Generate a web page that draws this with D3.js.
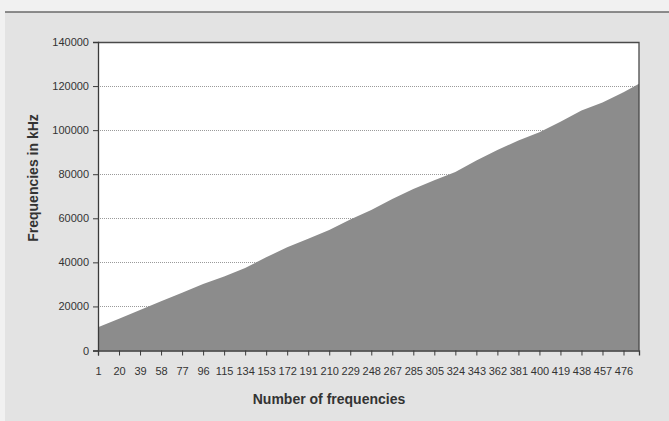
<!DOCTYPE html>
<html>
<head>
<meta charset="utf-8">
<script src="https://cdn.jsdelivr.net/npm/d3@7"></script>
<style>
  html, body { margin: 0; padding: 0; background: #f1f1f1; }
  svg { display: block; }
  text { font-family: "Liberation Sans", Arial, sans-serif; fill: #333; }
</style>
</head>
<body>
<div id="chart"></div>
<script>
// category labels shown on the x axis (every 19th frequency)
const tickLabels = ["1","20","39","58","77","96","115","134","153","172","191","210","229","248",
  "267","285","305","324","343","362","381","400","419","438","457","476"];
const tickCats = [1,20,39,58,77,96,115,134,153,172,191,210,229,248,267,286,305,324,343,362,381,400,419,438,457,476];

// frequency (kHz) at those categories, plus the last one
const sampleCats = [1,20,39,58,77,96,115,134,153,172,191,210,229,248,267,286,305,324,343,362,381,400,419,438,457,476,490];
const freqs = [10500,14400,18400,22400,26200,30200,33600,37400,42300,46800,50700,54700,59400,63800,
  68800,73300,77300,81000,86200,91000,95300,99100,103800,108900,112600,117200,121000];

const yTicks = [0,20000,40000,60000,80000,100000,120000,140000];

const W = 669, H = 421;
const margin = {top: 42, right: 30, bottom: 71, left: 98};
const width = 639 - margin.left;
const height = 350.5 - margin.top;

const svg = d3.select("#chart").append("svg")
    .attr("width", W)
    .attr("height", H);

// grey frame of the chart
svg.append("rect")
    .attr("x", 5).attr("y", 12)
    .attr("width", W - 5).attr("height", H - 12)
    .attr("fill", "#e3e3e3");
svg.append("line")
    .attr("x1", 5).attr("x2", W)
    .attr("y1", 12).attr("y2", 12)
    .attr("stroke", "#6a6a6a").attr("stroke-width", 1.5);

const g = svg.append("g")
    .attr("transform", "translate(" + margin.left + "," + margin.top + ")");

const x = d3.scaleLinear().domain([1, 490]).range([0, width]);
const y = d3.scaleLinear().domain([0, 140000]).range([height, 0]);

// plot area
g.append("rect")
    .attr("width", width).attr("height", height)
    .attr("fill", "#ffffff");

// gridlines
g.append("g").selectAll("line")
    .data(yTicks.filter(d => d > 0 && d < 140000))
    .enter().append("line")
    .attr("x1", 0).attr("x2", width)
    .attr("y1", d => Math.round(y(d)) + 0.5).attr("y2", d => Math.round(y(d)) + 0.5)
    .attr("stroke", "#9a9a9a")
    .attr("stroke-dasharray", "1,1");

// area
const area = d3.area()
    .x((d, i) => x(sampleCats[i]))
    .y0(height)
    .y1(d => y(d));

g.append("path")
    .attr("d", area(freqs))
    .attr("fill", "#8c8c8c");

// border top/right
g.append("path")
    .attr("d", "M0,0.5H" + width + "V" + height)
    .attr("fill", "none")
    .attr("stroke", "#4a4a4a")
    .attr("stroke-width", 1.3);

// y axis
const yAxis = d3.axisLeft(y).tickValues(yTicks).tickSize(5).tickPadding(4)
    .tickFormat(d3.format("d"));
const yg = g.append("g").call(yAxis);
yg.select(".domain").attr("stroke", "#3a3a3a").attr("stroke-width", 1.3);
yg.selectAll(".tick line").attr("stroke", "#3a3a3a");
yg.selectAll(".tick text").attr("font-size", "11px").attr("fill", "#3c3c3c")
    .attr("font-family", "Liberation Sans, Arial, sans-serif");

// x axis
const xAxis = d3.axisBottom(x).tickValues(tickCats).tickSize(5).tickPadding(12)
    .tickFormat((d, i) => tickLabels[i]);
const xg = g.append("g").attr("transform", "translate(0," + height + ")").call(xAxis);
xg.select(".domain").attr("stroke", "#3a3a3a").attr("stroke-width", 1.3);
xg.selectAll(".tick line").attr("stroke", "#3a3a3a");
xg.selectAll(".tick text").attr("font-size", "11px").attr("fill", "#3c3c3c")
    .attr("font-family", "Liberation Sans, Arial, sans-serif");

// titles
svg.append("text")
    .attr("x", 329).attr("y", 404)
    .attr("text-anchor", "middle")
    .attr("font-size", "14px").attr("font-weight", "bold")
    .attr("fill", "#333")
    .text("Number of frequencies");

svg.append("text")
    .attr("transform", "translate(38,178) rotate(-90)")
    .attr("text-anchor", "middle")
    .attr("font-size", "14px").attr("font-weight", "bold")
    .attr("fill", "#333")
    .text("Frequencies in kHz");
</script>
</body>
</html>
